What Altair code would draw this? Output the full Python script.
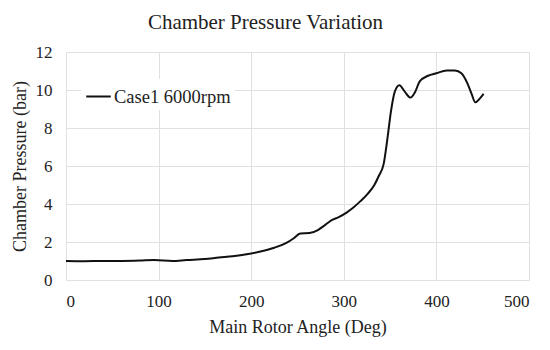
import altair as alt
import pandas as pd

angle = [0, 20, 40, 60, 80, 95, 115, 130, 150, 165, 180, 195, 210, 225, 238, 246,
         253, 263, 272, 280, 287, 294, 303, 310, 318, 326, 333, 338, 343, 347, 351,
         355, 360, 366, 372, 377, 382, 391, 400, 411, 420, 427, 433, 438, 442, 447, 451]
pressure = [1.0, 0.99, 1.0, 1.0, 1.02, 1.05, 1.0, 1.05, 1.1, 1.18, 1.25, 1.35, 1.5, 1.7,
            1.95, 2.2, 2.45, 2.47, 2.63, 2.9, 3.15, 3.3, 3.55, 3.8, 4.15, 4.55, 5.0, 5.5,
            6.1, 7.4, 8.9, 9.9, 10.25, 9.9, 9.6, 9.9, 10.45, 10.75, 10.88, 11.03, 11.03,
            10.88, 10.4, 9.8, 9.35, 9.56, 9.8]
series = "Case1 6000rpm"

df = pd.DataFrame({"angle": angle, "pressure": pressure, "series": series})

font = "Liberation Serif"
tc = "#222222"

chart = alt.Chart(df).mark_line(strokeWidth=2, interpolate="monotone").encode(
    x=alt.X("angle:Q", scale=alt.Scale(domain=[0, 500], nice=False),
            axis=alt.Axis(values=[0, 100, 200, 300, 400, 500], title="Main Rotor Angle (Deg)",
                          grid=True, domain=False, ticks=False, labelPadding=13,
                          titlePadding=9, labelFont=font, labelFontSize=17,
                          titleFont=font, titleFontSize=18)),
    y=alt.Y("pressure:Q", scale=alt.Scale(domain=[0, 12], nice=False),
            axis=alt.Axis(values=[0, 2, 4, 6, 8, 10, 12], title="Chamber Pressure (bar)",
                          grid=True, domain=False, ticks=False, labelPadding=14,
                          titlePadding=6, labelFont=font, labelFontSize=17,
                          titleFont=font, titleFontSize=18)),
    color=alt.Color("series:N", scale=alt.Scale(range=["#111111"]),
                    legend=alt.Legend(title=None, orient="none", legendX=15, legendY=27,
                                      symbolType="stroke", symbolSize=600,
                                      symbolStrokeWidth=2, fillColor="white",
                                      labelFont=font, labelFontSize=18.5, labelColor=tc,
                                      padding=4, labelOffset=2)),
).properties(
    width=463, height=228,
    title=alt.TitleParams("Chamber Pressure Variation", font=font, fontSize=21,
                          fontWeight="normal", color=tc, dx=-32, offset=10),
    autosize=alt.AutoSizeParams(type="none"),
    padding={"left": 58, "top": 44, "right": 13, "bottom": 62},
).configure(font=font).configure_axis(
    labelColor=tc, titleFontWeight="normal", titleColor=tc,
    gridColor="#e0e0e0", gridWidth=1,
).configure_view(stroke=None)

chart.save("out.html", embed_options={"renderer": "svg", "actions": False})
